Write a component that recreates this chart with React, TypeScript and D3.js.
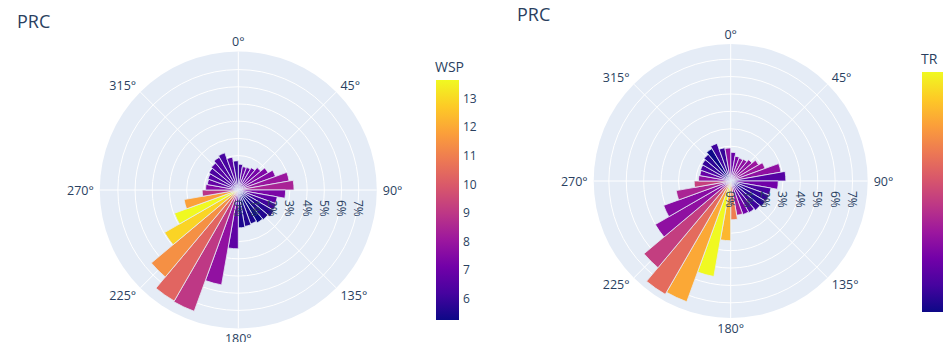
import React from 'react';
import * as d3 from 'd3';

// Direction bins (bin centres, degrees clockwise from north)
const directions = [5, 15, 25, 35, 45, 55, 65, 75, 85, 95, 105, 115, 125, 135, 145, 155, 165, 175,
  185, 195, 205, 215, 225, 235, 245, 255, 265, 275, 285, 295, 305, 315, 325, 335, 345, 355];

// Left rose: frequency (%) per bin, coloured by mean wind speed
const wspFreq = [1.5, 1.38, 1.4, 1.5, 1.7, 2.0, 2.3, 3.0, 3.24, 2.75, 2.3, 2.35, 2.4, 2.25, 2.2, 2.1, 2.15, 2.2,
  3.42, 5.6, 7.5, 7.45, 6.6, 4.95, 3.95, 3.2, 2.1, 1.9, 1.83, 1.88, 1.97, 2.05, 2.2, 2.3, 1.94, 1.7];
const wspValue = [6.3, 6.9, 6.9, 7.0, 7.2, 7.4, 7.5, 8.0, 8.4, 7.3, 6.75, 6.1, 5.65, 5.6, 5.24, 5.5, 5.6, 5.5,
  6.7, 7.8, 9.0, 10.3, 11.4, 12.9, 13.64, 11.8, 8.9, 7.5, 6.8, 6.5, 6.3, 6.5, 6.4, 6.2, 6.6, 6.0];

// Right rose: frequency (%) per bin, coloured by TR
const trFreq = [1.65, 1.45, 1.4, 1.45, 1.6, 1.85, 2.1, 2.93, 3.17, 2.73, 2.35, 2.35, 2.3, 2.2, 2.1, 2.05, 2.0, 2.23,
  3.43, 5.57, 7.38, 7.52, 6.5, 5.0, 4.1, 3.18, 2.1, 1.85, 1.8, 1.85, 1.9, 2.0, 2.15, 2.3, 1.94, 1.9];
const trValue = [0.2, 0.25, 0.3, 0.3, 0.3, 0.33, 0.33, 0.3, 0.15, 0.22, 0.12, 0.08, 0.05, 0.1, 0.15, 0.22, 0.35, 0.68,
  0.84, 1.0, 0.8, 0.62, 0.47, 0.3, 0.28, 0.38, 0.48, 0.3, 0.2, 0.12, 0.08, 0.06, 0.0, 0.1, 0.08, 0.3];

const angularTicks = [0, 45, 90, 135, 180, 225, 270, 315];
const radialTicks = [0, 1, 2, 3, 4, 5, 6, 7];
const wspBarTicks = [6, 7, 8, 9, 10, 11, 12, 13];

const plasmaStops = ['#0d0887', '#46039f', '#7201a8', '#9c179e', '#bd3786', '#d8576b', '#ed7953', '#fb9f3a', '#fdca26', '#f0f921'];
const plasma = d3.piecewise(d3.interpolateRgb, plasmaStops);

const FONT = '"Open Sans", verdana, arial, sans-serif';
const INK = '#2a3f5f';
const BG = '#E5ECF6';

type RoseProps = {
  id: string;
  cx: number;
  cy: number;
  radius: number;
  rMax: number;
  freq: number[];
  values: number[];
  title: string;
  titleX: number;
  titleY: number;
  barX: number;
  barY: number;
  barTitle: string;
  barTicks: number[];
};

function Rose(p: RoseProps) {
  const r = d3.scaleLinear().domain([0, p.rMax]).range([0, p.radius]);
  const [vMin, vMax] = d3.extent(p.values) as [number, number];
  const color = d3.scaleSequential(plasma).domain([vMin, vMax]);
  const arc = d3.arc<number>();
  const toRad = (deg: number) => (deg * Math.PI) / 180;
  const barW = 23;
  const barH = 240;
  const barScale = d3.scaleLinear().domain([vMin, vMax]).range([p.barY + barH, p.barY]);

  return (
    <g>
      <defs>
        <linearGradient id={`grad-${p.id}`} x1="0" y1="1" x2="0" y2="0">
          {plasmaStops.map((c, i) => (
            <stop key={i} offset={`${(i / (plasmaStops.length - 1)) * 100}%`} stopColor={c} />
          ))}
        </linearGradient>
      </defs>
      <text x={p.titleX} y={p.titleY} fontFamily={FONT} fontSize={18} fill={INK}>{p.title}</text>
      <g transform={`translate(${p.cx},${p.cy})`}>
        <circle r={p.radius} fill={BG} />
        {radialTicks.slice(1).map((t) => (
          <circle key={t} r={r(t)} fill="none" stroke="#fff" strokeWidth={1} />
        ))}
        {angularTicks.map((a) => (
          <line key={a} x1={0} y1={0} x2={p.radius * Math.sin(toRad(a))} y2={-p.radius * Math.cos(toRad(a))}
            stroke="#fff" strokeWidth={1} />
        ))}
        {directions.map((d, i) => (
          <path key={d}
            d={arc({ innerRadius: 0, outerRadius: r(p.freq[i]), startAngle: toRad(d - 5), endAngle: toRad(d + 5) } as any) || ''}
            fill={color(p.values[i])} stroke={BG} strokeWidth={0.8} />
        ))}
        {radialTicks.map((t) => (
          <text key={t} transform={`translate(${r(t)},10) rotate(90)`} fontFamily={FONT} fontSize={12} fill={INK}
            dominantBaseline="central" textAnchor="start">{`${t}%`}</text>
        ))}
        {angularTicks.map((a) => {
          const s = Math.sin(toRad(a));
          const c = Math.cos(toRad(a));
          const rr = p.radius + 6;
          const anchor = s > 0.1 ? 'start' : s < -0.1 ? 'end' : 'middle';
          return (
            <text key={a} x={rr * s} y={-rr * c - 4 * c} fontFamily={FONT} fontSize={12.5} fill={INK}
              textAnchor={anchor} dominantBaseline="central">{`${a}°`}</text>
          );
        })}
      </g>
      <text x={p.barX - 1} y={p.barY - 8} fontFamily={FONT} fontSize={14} fill={INK}>{p.barTitle}</text>
      <rect x={p.barX} y={p.barY} width={barW} height={barH} fill={`url(#grad-${p.id})`} />
      {p.barTicks.map((t) => (
        <text key={t} x={p.barX + barW + 4} y={barScale(t)} fontFamily={FONT} fontSize={12} fill={INK}
          dominantBaseline="central">{t}</text>
      ))}
    </g>
  );
}

export default function App() {
  return (
    <svg width={943} height={342} style={{ position: 'absolute', left: 0, top: 0, background: '#fff' }}>
      <Rose id="wsp" cx={238.3} cy={190} radius={138.5} rMax={8.05} freq={wspFreq} values={wspValue}
        title="PRC" titleX={17} titleY={28} barX={436} barY={80} barTitle="WSP" barTicks={wspBarTicks} />
      <Rose id="tr" cx={730.7} cy={181} radius={137} rMax={7.87} freq={trFreq} values={trValue}
        title="PRC" titleX={517} titleY={21} barX={922} barY={72} barTitle="TR" barTicks={[]} />
    </svg>
  );
}
